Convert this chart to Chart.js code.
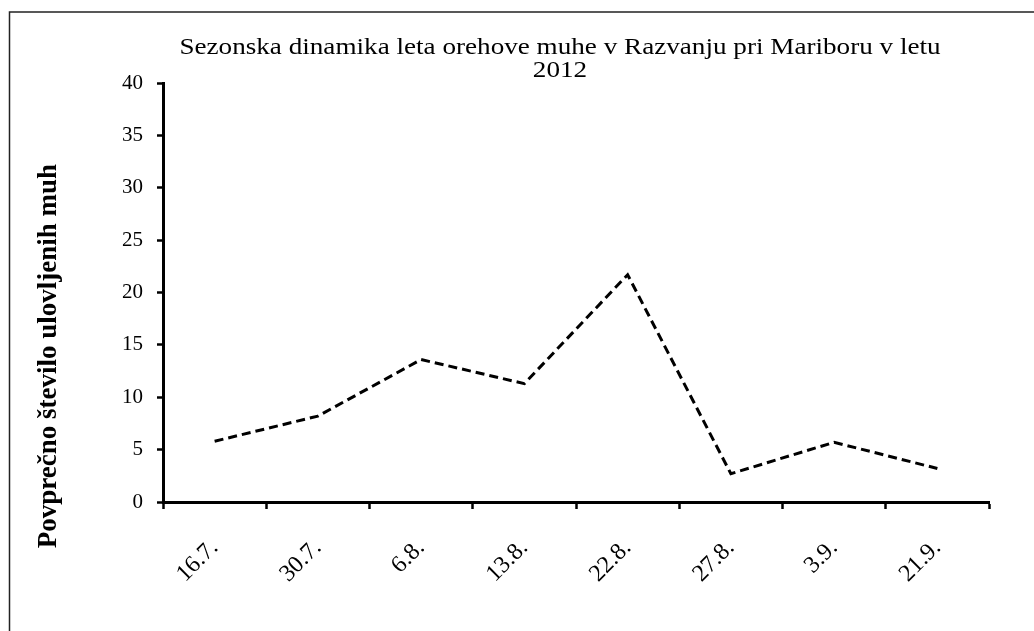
<!DOCTYPE html>
<html><head><meta charset="utf-8">
<script src="https://cdn.jsdelivr.net/npm/chart.js@4/dist/chart.umd.min.js"></script>
<style>html,body{margin:0;padding:0;background:#fff}#wrap{width:1034px;height:631px}</style>
</head><body><div id="wrap"><canvas id="c" width="1034" height="631"></canvas></div>
<script>
const categories = ['16.7.', '30.7.', '6.8.', '13.8.', '22.8.', '27.8.', '3.9.', '21.9.'];
const flies = [5.8, 8.2, 13.6, 11.3, 21.7, 2.7, 5.7, 3.2];
const yMin = 0, yMax = 40, yStep = 5;
const titleLines = ['Sezonska dinamika leta orehove muhe v Razvanju pri Mariboru v letu', '2012'];
const yTitle = 'Povprečno število ulovljenih muh';
const FONT = "'Liberation Serif', 'Times New Roman', serif";
const TITLE_CENTER = 560, TITLE_STRETCH = 1.18;

const framePlugin = {
  id: 'frame',
  afterLayout(chart) {
    const t = chart.titleBlock;
    if (t) {
      const shift = TITLE_CENTER - (t.left + t.right) / 2;
      t.left += shift; t.right += shift;
      if (!t._wrapped) {
        const orig = t.draw;
        t.draw = function (area) {
          const ctx = this.ctx;
          ctx.save();
          ctx.translate(TITLE_CENTER, 0);
          ctx.scale(TITLE_STRETCH, 1);
          ctx.translate(-TITLE_CENTER, 0);
          orig.call(this, area);
          ctx.restore();
        };
        t._wrapped = true;
      }
    }
  },
  beforeDraw(chart) {
    const ctx = chart.ctx;
    ctx.save();
    ctx.fillStyle = '#fff';
    ctx.fillRect(0, 0, chart.width, chart.height);
    ctx.strokeStyle = '#222';
    ctx.lineWidth = 1.5;
    ctx.strokeRect(9.5, 12, 1100, 1000);
    ctx.restore();
  },
  afterDraw(chart) {
    const ctx = chart.ctx;
    ctx.save();
    ctx.translate(49, 356);
    ctx.rotate(-Math.PI / 2);
    ctx.font = "bold 27px " + FONT;
    ctx.fillStyle = '#000';
    ctx.textAlign = 'center';
    ctx.textBaseline = 'middle';
    ctx.fillText(yTitle, 0, 0);
    ctx.restore();
  }
};

new Chart(document.getElementById('c'), {
  type: 'line',
  data: {
    labels: categories,
    datasets: [{
      data: flies,
      borderColor: '#000',
      borderWidth: 3,
      borderDash: [9, 5],
      pointRadius: 0,
      tension: 0,
      fill: false
    }]
  },
  options: {
    responsive: false,
    animation: false,
    devicePixelRatio: 1,
    layout: { padding: { left: 10, right: 45, top: 0, bottom: 0 } },
    plugins: {
      legend: { display: false },
      tooltip: { enabled: false },
      title: {
        display: true,
        text: titleLines,
        color: '#000',
        font: { family: FONT, size: 23, weight: 'normal', lineHeight: 1.0 },
        padding: { top: 36, bottom: 1 }
      }
    },
    scales: {
      x: {
        offset: true,
        grid: { offset: true, drawOnChartArea: false, drawTicks: true, tickLength: 7, tickWidth: 2.5, tickColor: '#000' },
        border: { color: '#000', width: 3 },
        ticks: {
          color: '#000',
          font: { family: FONT, size: 24 },
          minRotation: 45, maxRotation: 45,
          padding: 25,
          autoSkip: false
        },
        afterFit(s) { s.height = 129; }
      },
      y: {
        min: yMin, max: yMax,
        grid: { drawOnChartArea: false, drawTicks: true, tickLength: 6, tickWidth: 2.5, tickColor: '#000' },
        border: { color: '#000', width: 3 },
        ticks: { stepSize: yStep, color: '#000', font: { family: FONT, size: 21 }, padding: 14 },
        afterFit(s) { s.width = 153; }
      }
    }
  },
  plugins: [framePlugin]
});
</script>
</body></html>
